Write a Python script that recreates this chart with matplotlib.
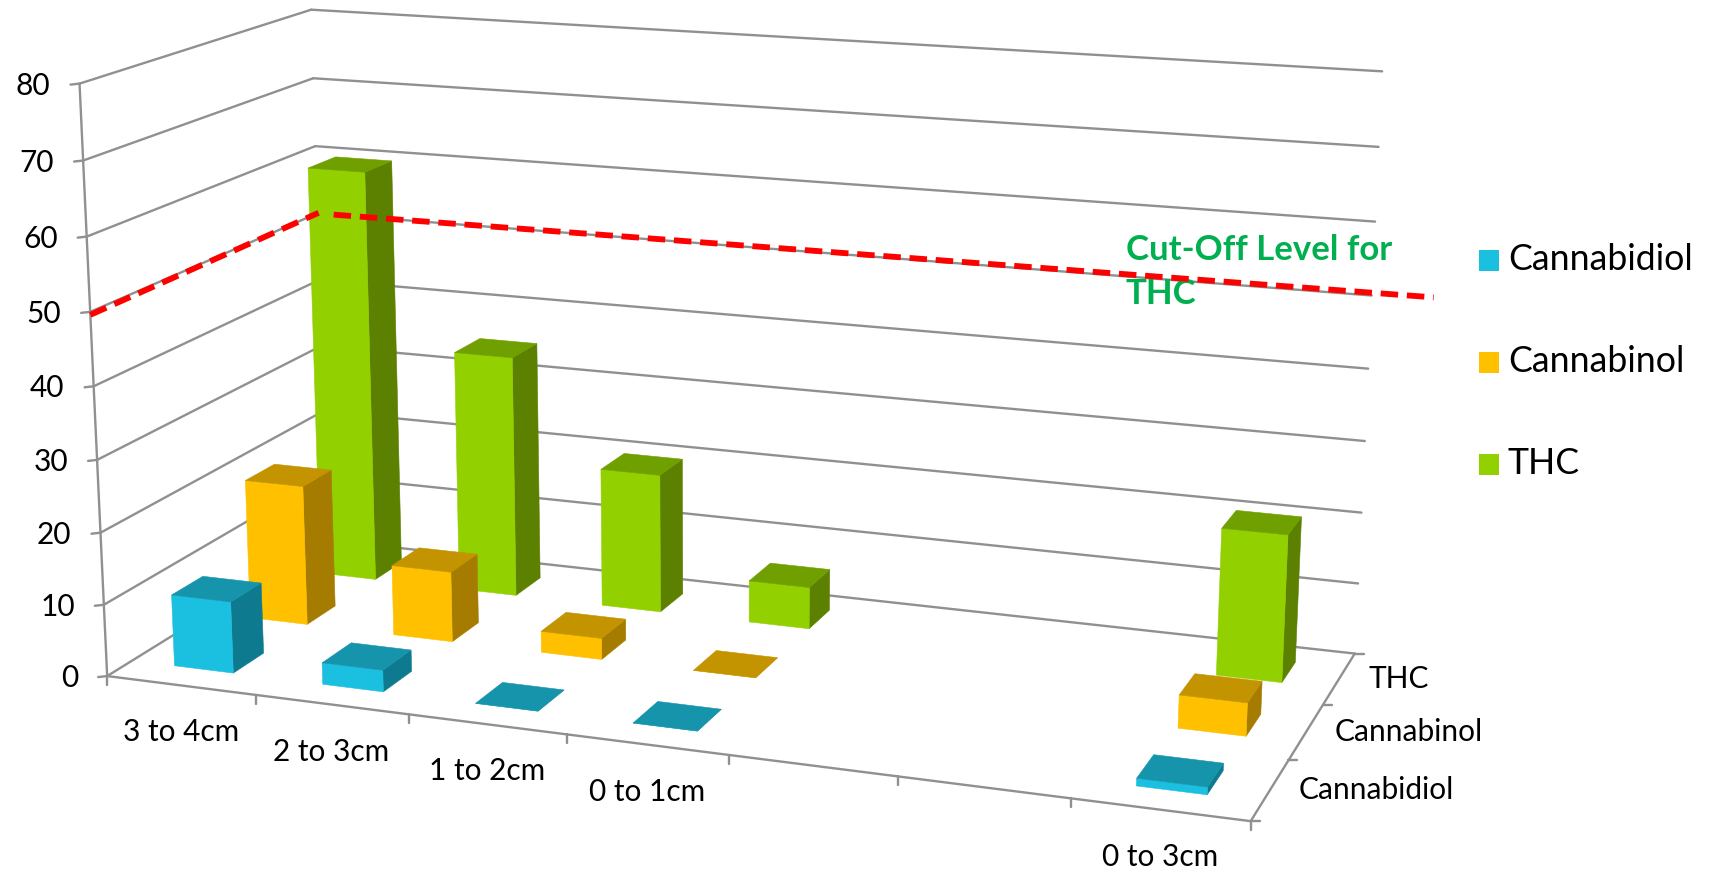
import numpy as np
import matplotlib
matplotlib.use('Agg')
import matplotlib.pyplot as plt
from matplotlib.patches import Polygon, Rectangle

categories = ['3 to 4cm', '2 to 3cm', '1 to 2cm', '0 to 1cm', '', '', '0 to 3cm']
value_ticks = [0, 10, 20, 30, 40, 50, 60, 70, 80]
cannabidiol = [10, 3, 0, 0, None, None, 1]
cannabinol = [20, 10, 3, 0, None, None, 4.5]
thc = [60, 35, 20, 6, None, None, 20.5]
series_names = ['Cannabidiol', 'Cannabinol', 'THC']
series_values = [cannabidiol, cannabinol, thc]
cut_off = 50
cut_off_label = 'Cut-Off Level for\nTHC'

# front, top, side
colors = [('#1BC0E0', '#1594AC', '#0E7A90'),
          ('#FFC000', '#C49300', '#A67C00'),
          ('#92D000', '#709F00', '#5C8100')]
grey = '#909090'
label_font = 'Lato'
label_size = 21.5

# camera: least squares fit of the chart frame (category, series, value) -> pixel
frame_world = np.array([[0, 0, 0], [7, 0, 0], [7, 3, 0], [0, 0, 80], [0, 3, 80], [7, 3, 80],
                        [0, 0, 70], [0, 3, 70], [7, 3, 70], [0, 0, 60], [0, 3, 60], [7, 3, 60],
                        [7, 3, 40], [7, 3, 30], [1, 0, 0], [2, 0, 0], [3, 0, 0], [4, 0, 0],
                        [5, 0, 0], [6, 0, 0]], float)
frame_px = np.array([[107.5, 675], [1250.7, 819.3], [1355, 653.3], [79.3, 83.3], [312.5, 10],
                     [1382.5, 71.7], [82.9, 160.7], [312.5, 78.7], [1378.4, 146.7], [87.1, 236],
                     [314.3, 146], [1375, 221.7], [1368, 368.3], [1365, 440.7], [255.7, 695],
                     [408.6, 714], [566.4, 734], [730, 757], [898, 779], [1070, 798]])
rows = []
for (X, Y, Z), (u, v) in zip(frame_world, frame_px):
    rows.append([X, Y, Z, 1, 0, 0, 0, 0, -u * X, -u * Y, -u * Z, -u])
    rows.append([0, 0, 0, 0, X, Y, Z, 1, -v * X, -v * Y, -v * Z, -v])
P = np.linalg.svd(np.array(rows))[2][-1].reshape(3, 4)


def proj(x, y, z):
    r = P @ np.array([x, y, z, 1.0])
    return r[:2] / r[2]


fig = plt.figure(figsize=(17.21, 8.73), dpi=100)
ax = fig.add_axes([0, 0, 1, 1])
ax.set_xlim(0, 1721)
ax.set_ylim(873, 0)
ax.axis('off')


def line(p, q, lw=1.7, color=grey, z=1):
    ax.plot([p[0], q[0]], [p[1], q[1]], color=color, lw=lw, zorder=z, solid_capstyle='round')


nx = len(categories)
ny = len(series_names)
zmax = value_ticks[-1]

# walls
for v in value_ticks:
    line(proj(0, 0, v), proj(0, ny, v))
    line(proj(0, ny, v), proj(nx, ny, v))
    p = proj(0, 0, v)
    line(p, p + [-9, 1])
    ax.text(p[0] - 29, p[1] + 2, str(v), ha='right', va='center', fontsize=label_size,
            family=label_font, color='black')
line(proj(0, 0, 0), proj(0, 0, zmax))
line(proj(0, 0, 0), proj(nx, 0, 0))
line(proj(nx, 0, 0), proj(nx, ny, 0))

# ticks and labels on the floor
for i in range(nx + 1):
    p = proj(i, 0, 0)
    line(p, p + [0, 9])
for k in range(ny + 1):
    p = proj(nx, k, 0)
    line(p, p + [9, 0])
for i, c in enumerate(categories):
    p = proj(i + 0.5, 0, 0)
    ax.text(p[0], p[1] + 47, c, ha='center', va='center', fontsize=label_size, family=label_font)
for k, name in enumerate(series_names):
    p = proj(nx, k + 0.5, 0)
    ax.text(p[0] + 29, p[1], name, ha='left', va='center', fontsize=label_size, family=label_font)

# bars, back row first
z = 2
for k in range(ny - 1, -1, -1):
    front, top, side = colors[k]
    for i, v in enumerate(series_values[k]):
        if v is None:
            continue
        x0, x1 = i + 0.29, i + 0.69
        y0, y1 = k + 0.31, k + 0.71
        faces = [([(x1, y0, 0), (x1, y1, 0), (x1, y1, v), (x1, y0, v)], side),
                 ([(x0, y0, 0), (x1, y0, 0), (x1, y0, v), (x0, y0, v)], front),
                 ([(x0, y0, v), (x1, y0, v), (x1, y1, v), (x0, y1, v)], top)]
        for corners, col in faces:
            ax.add_patch(Polygon([proj(*c) for c in corners], closed=True, facecolor=col,
                                 edgecolor=col, lw=0.4, zorder=z))
        z += 1

# cut-off line, a drawn shape that sits roughly on the 50 gridline
for a, b in [(proj(0, 0, cut_off - 0.4), proj(0, ny + 0.02, cut_off)),
             (proj(0.12, ny, cut_off), proj(7.37, ny, cut_off + 0.4))]:
    ax.plot([a[0], b[0]], [a[1], b[1]], color='#FF0000', lw=4.2, zorder=100,
            dashes=(3.0, 1.5), dash_capstyle='butt')
ax.text(1126, 234, cut_off_label, ha='left', va='top', fontsize=25, fontweight='bold',
        family=label_font, color='#00B050', linespacing=1.47, zorder=99)

# legend
for k, name in enumerate(series_names):
    y = 250 + k * 102
    ax.add_patch(Rectangle((1478.6, y), 20.5, 20.7, facecolor=colors[k][0], edgecolor='none'))
    ax.text(1508, y + 9, name, ha='left', va='center', fontsize=25.7, family=label_font)

fig.savefig('out.png', dpi=100)
